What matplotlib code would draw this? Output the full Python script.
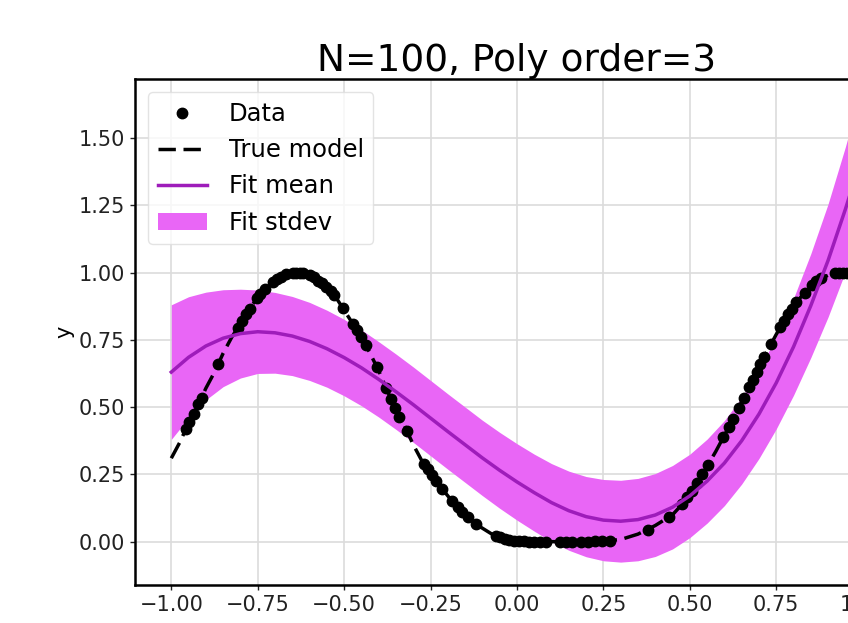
import matplotlib
matplotlib.use("Agg")
import matplotlib.pyplot as plt

# ---- data ----
data_x = [-0.958, -0.948, -0.935, -0.922, -0.912, -0.865, -0.807, -0.795, -0.783, -0.772,
          -0.752, -0.742, -0.728, -0.706, -0.694, -0.683, -0.668, -0.648, -0.638, -0.628,
          -0.618, -0.598, -0.588, -0.576, -0.565, -0.552, -0.538, -0.528, -0.504, -0.475,
          -0.462, -0.450, -0.437, -0.406, -0.378, -0.365, -0.352, -0.340, -0.317, -0.268,
          -0.258, -0.246, -0.233, -0.216, -0.187, -0.172, -0.158, -0.142, -0.118, -0.060,
          -0.048, -0.035, -0.022, -0.008, 0.005, 0.020, 0.035, 0.050, 0.068, 0.085,
          0.125, 0.142, 0.160, 0.185, 0.205, 0.225, 0.245, 0.268, 0.380, 0.440,
          0.478, 0.492, 0.506, 0.521, 0.536, 0.552, 0.597, 0.612, 0.626, 0.641,
          0.656, 0.671, 0.682, 0.693, 0.704, 0.714, 0.735, 0.762, 0.773, 0.784,
          0.795, 0.808, 0.833, 0.852, 0.866, 0.880, 0.920, 0.932, 0.943, 0.955]
data_y = [0.420, 0.445, 0.475, 0.510, 0.535, 0.660, 0.795, 0.820, 0.845, 0.865,
          0.905, 0.920, 0.940, 0.965, 0.975, 0.985, 0.995, 1.000, 1.000, 1.000,
          1.000, 0.990, 0.985, 0.970, 0.960, 0.945, 0.930, 0.915, 0.870, 0.810,
          0.785, 0.760, 0.730, 0.650, 0.570, 0.530, 0.495, 0.465, 0.410, 0.290,
          0.270, 0.248, 0.225, 0.195, 0.150, 0.127, 0.110, 0.090, 0.065, 0.022,
          0.016, 0.011, 0.007, 0.004, 0.002, 0.001, 0.000, 0.000, 0.000, 0.000,
          0.000, 0.000, 0.000, 0.000, 0.000, 0.001, 0.002, 0.004, 0.045, 0.092,
          0.140, 0.165, 0.190, 0.218, 0.250, 0.285, 0.390, 0.425, 0.457, 0.495,
          0.535, 0.575, 0.600, 0.630, 0.660, 0.685, 0.735, 0.797, 0.820, 0.845,
          0.865, 0.890, 0.925, 0.952, 0.968, 0.978, 0.998, 1.000, 1.000, 1.000]

true_x = [-1.00, -0.975, -0.95, -0.925, -0.90, -0.875, -0.85, -0.825, -0.80, -0.775,
          -0.75, -0.725, -0.70, -0.675, -0.65, -0.625, -0.60, -0.575, -0.55, -0.525,
          -0.50, -0.475, -0.45, -0.425, -0.40, -0.375, -0.35, -0.325, -0.30, -0.275,
          -0.25, -0.225, -0.20, -0.175, -0.15, -0.125, -0.10, -0.075, -0.05, -0.025,
          0.00, 0.05, 0.10, 0.15, 0.20, 0.25, 0.30, 0.35, 0.40, 0.45,
          0.475, 0.50, 0.525, 0.55, 0.575, 0.60, 0.625, 0.65, 0.675, 0.70,
          0.725, 0.75, 0.775, 0.80, 0.825, 0.85, 0.875, 0.90, 0.925, 0.95,
          0.975, 1.00]
true_y = [0.31, 0.37, 0.44, 0.50, 0.57, 0.63, 0.70, 0.76, 0.81, 0.86,
          0.91, 0.945, 0.97, 0.99, 1.00, 1.00, 0.99, 0.97, 0.945, 0.91,
          0.86, 0.81, 0.76, 0.70, 0.635, 0.56, 0.49, 0.43, 0.36, 0.30,
          0.255, 0.21, 0.17, 0.13, 0.10, 0.07, 0.05, 0.03, 0.017, 0.008,
          0.003, 0.0, 0.0, 0.0, 0.0, 0.002, 0.008, 0.028, 0.06, 0.10,
          0.135, 0.18, 0.225, 0.28, 0.335, 0.395, 0.455, 0.52, 0.585, 0.65,
          0.71, 0.77, 0.825, 0.875, 0.915, 0.95, 0.975, 0.99, 1.0, 1.0,
          0.995, 0.98]

fit_x = [-1.00, -0.95, -0.90, -0.85, -0.80, -0.75, -0.70, -0.65, -0.60, -0.55,
         -0.50, -0.45, -0.40, -0.35, -0.30, -0.25, -0.20, -0.15, -0.10, -0.05,
         0.00, 0.05, 0.10, 0.15, 0.20, 0.25, 0.30, 0.35, 0.40, 0.45,
         0.50, 0.55, 0.60, 0.65, 0.70, 0.75, 0.80, 0.85, 0.90, 0.95, 1.00]
fit_mean = [0.630, 0.685, 0.727, 0.756, 0.773, 0.780, 0.776, 0.764, 0.744, 0.717,
            0.684, 0.646, 0.603, 0.557, 0.509, 0.459, 0.409, 0.360, 0.311, 0.265,
            0.222, 0.182, 0.145, 0.115, 0.093, 0.080, 0.076, 0.082, 0.099, 0.128,
            0.170, 0.225, 0.292, 0.375, 0.474, 0.590, 0.724, 0.877, 1.045, 1.235, 1.440]
fit_std = [0.250, 0.225, 0.200, 0.180, 0.165, 0.155, 0.150, 0.147, 0.145, 0.143,
           0.142, 0.141, 0.140, 0.140, 0.140, 0.140, 0.140, 0.140, 0.140, 0.141,
           0.142, 0.143, 0.145, 0.147, 0.149, 0.151, 0.152, 0.153, 0.154, 0.155,
           0.155, 0.156, 0.158, 0.161, 0.165, 0.171, 0.180, 0.193, 0.210, 0.232, 0.260]

x_ticks = [-1.00, -0.75, -0.50, -0.25, 0.00, 0.25, 0.50, 0.75, 1.00]
y_ticks = [0.00, 0.25, 0.50, 0.75, 1.00, 1.25, 1.50]

fig = plt.figure(figsize=(8.48, 6.23), dpi=100)
ax = fig.add_axes([0.1592, 0.061, 0.9009, 0.8122])

ax.plot(data_x, data_y, 'o', color='black', markersize=7.5, label='Data')
ax.plot(true_x, true_y, color='black', lw=2.5, dashes=(5, 2.2), label='True model')
ax.plot(fit_x, fit_mean, color='#9e1cba', lw=2.5, label='Fit mean')
lo = [m - s for m, s in zip(fit_mean, fit_std)]
hi = [m + s for m, s in zip(fit_mean, fit_std)]
ax.fill_between(fit_x, lo, hi, color='#e966f6', lw=0, label='Fit stdev')

ax.set_xlim(-1.105, 1.105)
ax.set_ylim(-0.161, 1.719)
ax.set_xticks(x_ticks)
ax.set_yticks(y_ticks)
ax.set_xticklabels([f"{v:.2f}".replace('-', '\u2212') for v in x_ticks])
ax.set_yticklabels([f"{v:.2f}" for v in y_ticks])
ax.tick_params(labelsize=15, length=3.5, width=1, colors='#222222')
ax.grid(True, color='#dcdcdc', lw=1.2)
ax.set_axisbelow(True)
for sp in ax.spines.values():
    sp.set_linewidth(1.8)
    sp.set_color('black')

ax.set_ylabel('y', fontsize=15, labelpad=3)
ax.set_title('N=100, Poly order=3', fontsize=27)

leg = ax.legend(loc='upper left', fontsize=17.5, labelspacing=0.5,
                handlelength=2.0, handletextpad=0.9, numpoints=1,
                borderaxespad=0.55, borderpad=0.4)
leg.get_frame().set_edgecolor('#dddddd')

fig.savefig('out.png', dpi=100)
